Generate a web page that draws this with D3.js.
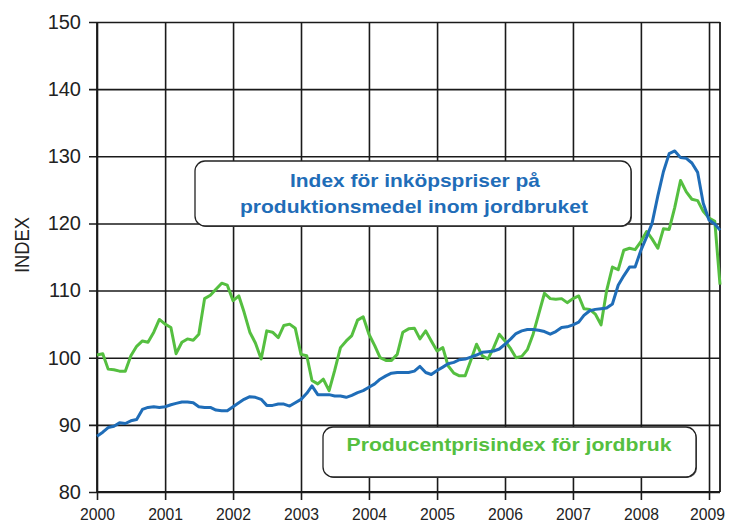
<!DOCTYPE html>
<html>
<head>
<meta charset="utf-8">
<script src="https://cdn.jsdelivr.net/npm/d3@7"></script>
<style>
  html, body { margin: 0; padding: 0; background: #fff; }
  svg { display: block; }
</style>
</head>
<body>
<svg id="chart" width="729" height="529"></svg>
<script>
// ---- Data (monthly, Jan 2000 – Mar 2009) ----
const startMonth = "2000-01";
const endMonth = "2009-03";

const inkopsIndex = [
  88.3, 88.9, 89.6, 89.8, 90.3, 90.2, 90.6, 90.8, 92.3, 92.6, 92.7, 92.6,
  92.7, 93.0, 93.2, 93.4, 93.4, 93.3, 92.7, 92.6, 92.6, 92.2, 92.1, 92.1,
  92.7, 93.3, 93.8, 94.2, 94.1, 93.8, 92.9, 92.9, 93.1, 93.1, 92.8, 93.3,
  93.8, 94.7, 95.8, 94.5, 94.5, 94.5, 94.3, 94.3, 94.1, 94.4, 94.8, 95.1,
  95.6, 96.1, 96.8, 97.3, 97.7, 97.8, 97.8, 97.8, 98.0, 98.7, 97.8, 97.5,
  98.1, 98.6, 99.1, 99.3, 99.7, 99.8, 100.1, 100.4, 100.8, 100.9, 101.0, 101.3,
  102.0, 102.8, 103.6, 104.0, 104.2, 104.2, 104.1, 103.9, 103.5, 103.9, 104.5, 104.6,
  104.9, 105.3, 106.3, 107.0, 107.2, 107.3, 107.4, 108.0, 110.8, 112.2, 113.5, 113.5,
  116.0, 118.0, 120.0, 124.1, 127.7, 130.4, 130.8, 129.8, 129.7, 129.0, 127.6, 123.0,
  120.5, 119.9, 119.0
];

const producentIndex = [
  100.4, 100.6, 98.3, 98.2, 98.0, 98.0, 100.3, 101.7, 102.5, 102.3, 103.8, 105.7,
  105.0, 104.5, 100.6, 102.3, 102.8, 102.6, 103.5, 108.8, 109.3, 110.2, 111.1, 110.8,
  108.5, 109.2, 106.8, 103.8, 102.2, 99.8, 104.0, 103.8, 103.0, 104.8, 105.0, 104.4,
  100.5, 100.3, 96.6, 96.1, 96.8, 95.1, 98.1, 101.5, 102.5, 103.3, 105.6, 106.1,
  103.5, 101.8, 100.0, 99.6, 99.6, 100.5, 103.8, 104.3, 104.4, 102.8, 104.0, 102.5,
  101.0, 101.5, 98.8, 97.7, 97.3, 97.3, 99.6, 102.0, 100.3, 99.8, 101.5, 103.5,
  102.5, 101.3, 100.0, 100.2, 101.2, 103.5, 106.5, 109.6, 108.8, 108.7, 108.8, 108.2,
  108.8, 109.2, 107.3, 107.2, 106.5, 104.9, 110.0, 113.5, 113.1, 116.0, 116.3, 116.1,
  117.3, 118.8, 117.7, 116.3, 119.2, 119.1, 122.4, 126.4, 124.7, 123.6, 123.4, 121.8,
  120.8, 120.3, 110.9
];

const yearTicks = ["2000","2001","2002","2003","2004","2005","2006","2007","2008","2009"];
const yTicks = [80, 90, 100, 110, 120, 130, 140, 150];

const yAxisTitle = "INDEX";
const legendBlueLines = ["Index för inköpspriser på", "produktionsmedel inom jordbruket"];
const legendGreen = "Producentprisindex för jordbruk";

// ---- Layout ----
const blue = "#1f6db8";
const green = "#55bf40";
const gridColor = "#1a1a1a";
const pL = 97, pR = 720, pT = 22, pB = 492;

const parseM = d3.timeParse("%Y-%m");
const months = d3.timeMonth.range(parseM(startMonth), d3.timeMonth.offset(parseM(endMonth), 1));

const x = d3.scaleTime().domain([parseM(startMonth), parseM(endMonth)]).range([pL, pR]);
const y = d3.scaleLinear().domain([80, 150]).range([pB, pT]);

const svg = d3.select("#chart");
svg.append("rect").attr("width", 729).attr("height", 529).attr("fill", "#fff");

// horizontal gridlines (y axis with ticks extending outward)
const yAxis = d3.axisLeft(y).tickValues(yTicks).tickSize(-(pR - pL)).tickSizeOuter(0).tickFormat(d3.format("d"));
const gy = svg.append("g").attr("transform", `translate(${pL},0)`).call(yAxis);
gy.select(".domain").remove();
gy.selectAll(".tick line").attr("stroke", gridColor).attr("stroke-width", 1.6).attr("x1", -8);
gy.selectAll(".tick text")
  .attr("x", -16)
  .attr("font-family", "'Liberation Sans', Arial, sans-serif")
  .attr("font-size", 20)
  .attr("fill", "#222");

// vertical gridlines (x axis)
const yearDates = yearTicks.map(t => d3.timeParse("%Y")(t));
const xAxis = d3.axisBottom(x).tickValues(yearDates).tickSize(-(pB - pT)).tickSizeOuter(0).tickFormat(d3.timeFormat("%Y"));
const gx = svg.append("g").attr("transform", `translate(0,${pB})`).call(xAxis);
gx.select(".domain").remove();
gx.selectAll(".tick line").attr("stroke", gridColor).attr("stroke-width", 1.6).attr("y1", 8);
gx.selectAll(".tick text")
  .attr("x", (d, i) => i === yearTicks.length - 1 ? -2 : 0)
  .attr("y", 23)
  .attr("dy", "0.32em")
  .attr("font-family", "'Liberation Sans', Arial, sans-serif")
  .attr("font-size", 17)
  .attr("textLength", 35)
  .attr("lengthAdjust", "spacingAndGlyphs")
  .attr("fill", "#222");

// frame lines: left axis, bottom axis, right edge
svg.append("line").attr("x1", pL).attr("x2", pL).attr("y1", pT).attr("y2", pB)
  .attr("stroke", gridColor).attr("stroke-width", 1.8);
svg.append("line").attr("x1", pL).attr("x2", pR).attr("y1", pB).attr("y2", pB)
  .attr("stroke", gridColor).attr("stroke-width", 1.8);
svg.append("line").attr("x1", pR).attr("x2", pR).attr("y1", pT).attr("y2", pB)
  .attr("stroke", gridColor).attr("stroke-width", 1.8);

// y axis title
svg.append("text")
  .attr("transform", "translate(29,245) rotate(-90)")
  .attr("text-anchor", "middle")
  .attr("font-family", "'Liberation Sans', Arial, sans-serif")
  .attr("font-size", 20)
  .attr("textLength", 56)
  .attr("lengthAdjust", "spacingAndGlyphs")
  .attr("fill", "#222")
  .text(yAxisTitle);

// legend boxes (drawn over grid)
function box(bx, by, bw, bh) {
  svg.append("rect").attr("x", bx + 1).attr("y", by + 1).attr("width", bw).attr("height", bh)
    .attr("rx", 10).attr("fill", "#555");
  svg.append("rect").attr("x", bx).attr("y", by).attr("width", bw).attr("height", bh)
    .attr("rx", 10).attr("fill", "#fff").attr("stroke", "#222").attr("stroke-width", 1.3);
}
box(195, 161, 436, 65);
box(323, 427, 373, 50);

const legendFont = "'Liberation Sans', Arial, sans-serif";
svg.append("text").attr("x", 415).attr("y", 187).attr("text-anchor", "middle")
  .attr("font-family", legendFont).attr("font-weight", "bold").attr("font-size", 19)
  .attr("textLength", 250).attr("lengthAdjust", "spacingAndGlyphs")
  .attr("fill", blue).text(legendBlueLines[0]);
svg.append("text").attr("x", 414).attr("y", 213).attr("text-anchor", "middle")
  .attr("font-family", legendFont).attr("font-weight", "bold").attr("font-size", 19)
  .attr("textLength", 348).attr("lengthAdjust", "spacingAndGlyphs")
  .attr("fill", blue).text(legendBlueLines[1]);
svg.append("text").attr("x", 509).attr("y", 451).attr("text-anchor", "middle")
  .attr("font-family", legendFont).attr("font-weight", "bold").attr("font-size", 19)
  .attr("textLength", 325).attr("lengthAdjust", "spacingAndGlyphs")
  .attr("fill", green).text(legendGreen);

// series lines
const line = d3.line().x((d, i) => x(months[i])).y(d => y(d));
svg.append("path").datum(producentIndex).attr("d", line)
  .attr("fill", "none").attr("stroke", green).attr("stroke-width", 3).attr("stroke-linejoin", "round");
svg.append("path").datum(inkopsIndex).attr("d", line)
  .attr("fill", "none").attr("stroke", blue).attr("stroke-width", 3).attr("stroke-linejoin", "round");
</script>
</body>
</html>
